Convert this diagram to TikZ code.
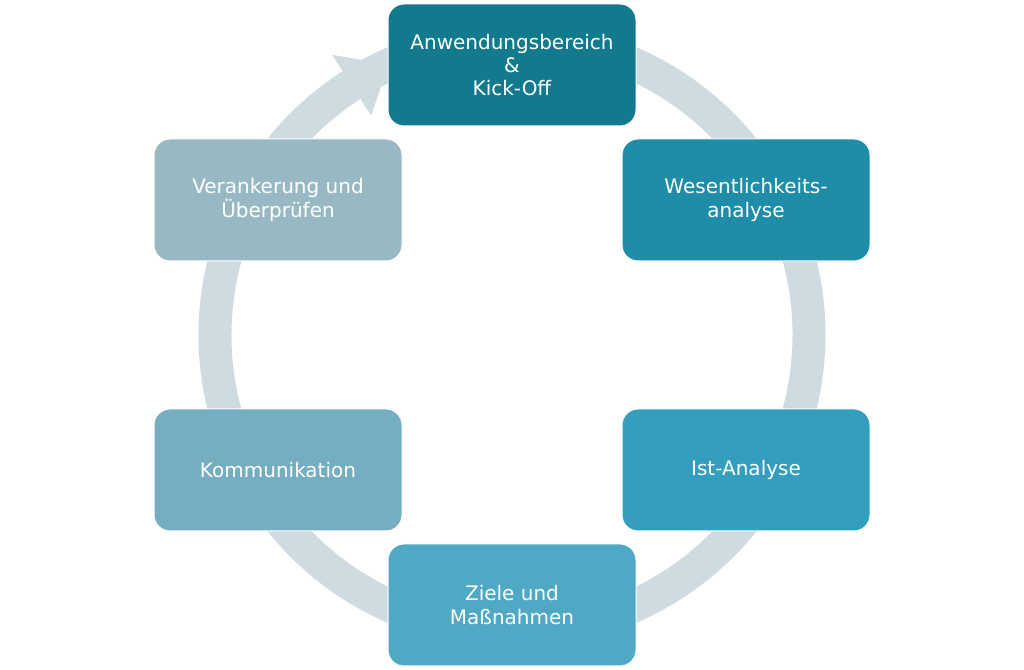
\documentclass[tikz,border=0pt]{standalone}
\usepackage{fontspec}
\setmainfont{DejaVu Sans}
\definecolor{ringc}{HTML}{CEDBE1}
\definecolor{cA}{HTML}{137A8E}
\definecolor{cB}{HTML}{1F8CA8}
\definecolor{cC}{HTML}{339EBD}
\definecolor{cD}{HTML}{4FA9C4}
\definecolor{cE}{HTML}{76AEC1}
\definecolor{cF}{HTML}{98B9C4}
\begin{document}
\begin{tikzpicture}[x=0.75pt,y=0.75pt,
  stage/.style={draw=white,line width=0.75pt,rounded corners=12pt,minimum width=186pt,minimum height=91.5pt,
    text=white,align=center,inner sep=0pt,font=\fontsize{15}{17.5}\selectfont}]
\useasboundingbox (0,0) rectangle (1024,670);
\coordinate (C) at (512,335);
% ring
\draw[ringc,line width=24.75pt] ([shift={(122.7:297)}]C) arc[start angle=122.7,end angle=-270,radius=297];
\coordinate (w1) at ([shift={(122.7:333)}]C);
\coordinate (w2) at ([shift={(122.7:261)}]C);
\coordinate (tip) at ([shift={(114.5:297)}]C);
\fill[ringc] (w1) -- (tip) -- (w2) -- cycle;
% boxes
\node[stage,fill=cA] (a) at (512,605) {Anwendungsbereich\\\&\\Kick-Off};
\node[stage,fill=cB] (b) at (746,470) {Wesentlichkeits-\\analyse};
\node[stage,fill=cC] (c) at (746,200) {Ist-Analyse};
\node[stage,fill=cD] (d) at (512,65) {Ziele und\\Maßnahmen};
\node[stage,fill=cE] (e) at (278,200) {Kommunikation};
\node[stage,fill=cF] (f) at (278,470) {Verankerung und\\Überprüfen};
\end{tikzpicture}
\end{document}
